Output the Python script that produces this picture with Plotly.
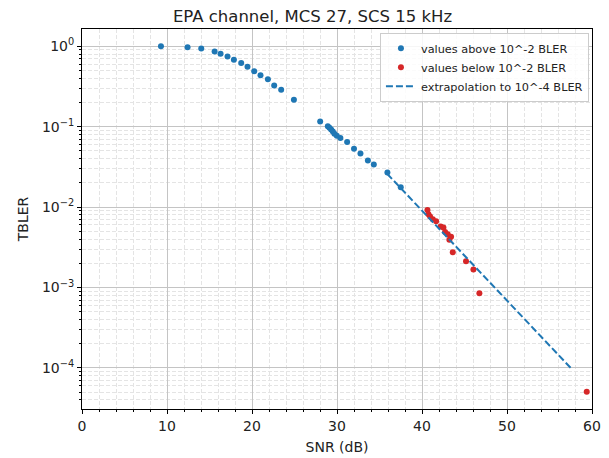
import plotly.graph_objects as go

# ---- data ----
snr_above = [9.29, 12.42, 14.03, 15.6, 16.3, 17.12, 17.87, 18.73, 19.47, 20.26, 21.0,
             21.87, 22.61, 23.43, 24.93, 28.02, 28.92, 29.11, 29.31, 29.51, 29.7,
             29.98, 30.4, 31.19, 32.0, 32.76, 33.63, 34.33, 35.93, 37.5]
bler_above = [1.0, 0.97, 0.936, 0.86, 0.81, 0.745, 0.678, 0.622, 0.555, 0.49, 0.436,
              0.39, 0.325, 0.288, 0.216, 0.116, 0.1016, 0.097, 0.0925, 0.0874, 0.0818,
              0.0773, 0.0722, 0.0644, 0.0533, 0.0466, 0.0379, 0.0338, 0.0269, 0.0177]

snr_below = [40.64, 40.76, 40.95, 41.27, 41.66, 42.2, 42.52, 42.72, 43.03, 43.42,
             43.22, 43.62, 45.18, 46.05, 46.75, 59.38]
bler_below = [0.00923, 0.00816, 0.00764, 0.00708, 0.00668, 0.00574, 0.00558, 0.00492,
              0.00461, 0.00427, 0.00392, 0.00275, 0.00213, 0.00168, 0.000847, 5.05e-5]

snr_extrap = [35.9, 57.5]
bler_extrap = [0.026, 1e-4]

title = "EPA channel, MCS 27, SCS 15 kHz"
x_label = "SNR (dB)"
y_label = "TBLER"
y_tick_vals = [1, 0.1, 0.01, 0.001, 0.0001]
y_tick_text = ["10<sup>0</sup>", "10<sup>\u22121</sup>", "10<sup>\u22122</sup>",
               "10<sup>\u22123</sup>", "10<sup>\u22124</sup>"]

BLUE = "#1f77b4"
RED = "#d62728"
FONT = "DejaVu Sans"

minor_y = [m * 10.0 ** k for k in range(-5, 1) for m in range(2, 10)]

fig = go.Figure()
fig.add_trace(go.Scatter(x=snr_above, y=bler_above, mode="markers",
                         marker=dict(color=BLUE, size=6),
                         name="values above 10^-2 BLER"))
fig.add_trace(go.Scatter(x=snr_below, y=bler_below, mode="markers",
                         marker=dict(color=RED, size=6),
                         name="values below 10^-2 BLER"))
fig.add_trace(go.Scatter(x=snr_extrap, y=bler_extrap, mode="lines",
                         line=dict(color=BLUE, width=2, dash="7px,3px"),
                         name="extrapolation to 10^-4 BLER"))

fig.update_layout(
    width=609, height=458,
    margin=dict(l=74, r=25, t=21, b=57, autoexpand=False),
    paper_bgcolor="white", plot_bgcolor="white",
    font=dict(family=FONT, size=14, color="#222222"),
    title=dict(text=title, x=0.5, xanchor="center", y=0.9825, yanchor="middle",
               font=dict(family=FONT, size=16.5, color="#222222")),
    showlegend=True,
    legend=dict(x=0.994, y=0.99, xanchor="right", yanchor="top",
                bgcolor="rgba(255,255,255,0.85)", bordercolor="#cccccc", borderwidth=1,
                font=dict(family=FONT, size=11.3, color="#222222"),
                tracegroupgap=0, itemwidth=30),
)

fig.update_xaxes(
    range=[0, 60], tickmode="linear", tick0=0, dtick=10, automargin=False,
    showline=True, linecolor="black", linewidth=1, mirror=True,
    ticks="outside", ticklen=4, tickcolor="black",
    showgrid=True, gridcolor="#c4c4c4", gridwidth=1, zeroline=False,
    minor=dict(dtick=2, tick0=0, ticks="outside", ticklen=2, tickcolor="black",
               showgrid=True, gridcolor="#e4e4e4", griddash="4px,2px", gridwidth=1),
    title=dict(text=x_label, standoff=9, font=dict(family=FONT, size=14)),
)
fig.update_yaxes(
    type="log", range=[-4.51, 0.215], automargin=False,
    tickmode="array", tickvals=y_tick_vals, ticktext=y_tick_text,
    showline=True, linecolor="black", linewidth=1, mirror=True,
    ticks="outside", ticklen=4, tickcolor="black",
    showgrid=True, gridcolor="#c4c4c4", gridwidth=1, zeroline=False,
    minor=dict(tickmode="array", tickvals=minor_y, ticks="outside", ticklen=2,
               tickcolor="black", showgrid=True, gridcolor="#e4e4e4",
               griddash="4px,2px", gridwidth=1),
    title=dict(text=y_label, standoff=10, font=dict(family=FONT, size=14)),
)

fig.write_html("out.html")
